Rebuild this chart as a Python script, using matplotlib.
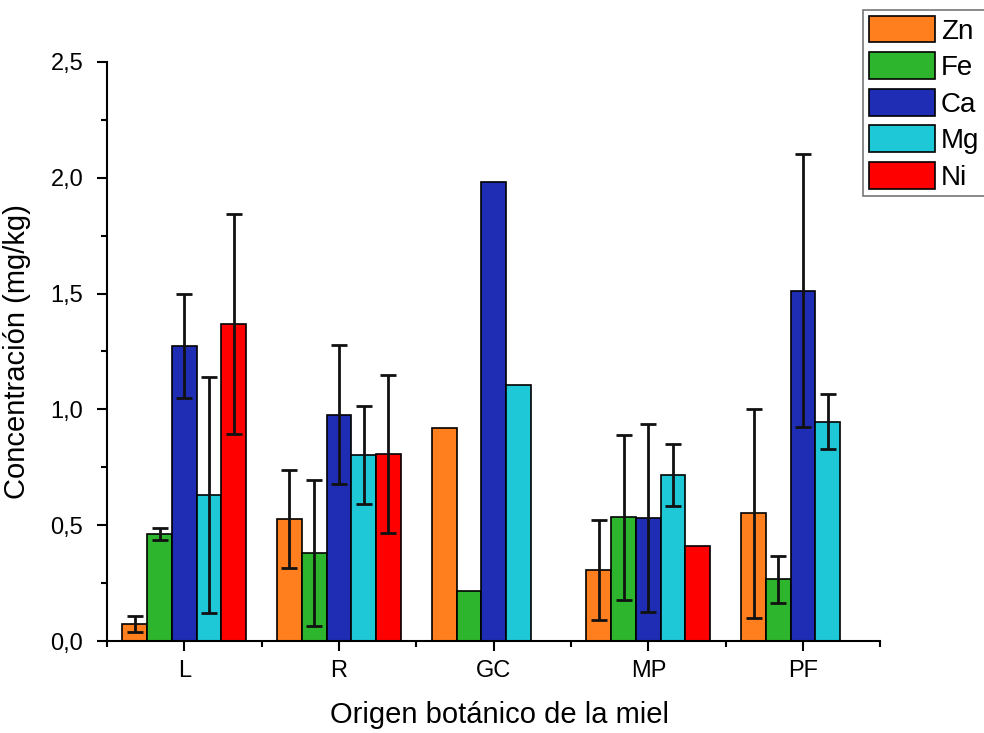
"""Concentración de metales por origen botánico de la miel."""
import numpy as np
import matplotlib
matplotlib.use('Agg')
import matplotlib.pyplot as plt
from matplotlib.ticker import MultipleLocator, FixedLocator, FuncFormatter

plt.rcParams['font.family'] = ['Liberation Sans', 'DejaVu Sans']

# Datos
origen = ['L', 'R', 'GC', 'MP', 'PF']
metales = ['Zn', 'Fe', 'Ca', 'Mg', 'Ni']

zn = [0.073, 0.527, 0.918, 0.307, 0.551]
fe = [0.462, 0.381, 0.217, 0.534, 0.266]
ca = [1.274, 0.976, 1.983, 0.532, 1.513]
mg = [0.630, 0.803, 1.105, 0.717, 0.947]
ni = [1.369, 0.806, np.nan, 0.410, np.nan]

zn_err = [0.035, 0.212, np.nan, 0.215, 0.450]
fe_err = [0.025, 0.315, np.nan, 0.357, 0.100]
ca_err = [0.224, 0.300, np.nan, 0.405, 0.590]
mg_err = [0.510, 0.212, np.nan, 0.133, 0.120]
ni_err = [0.476, 0.341, np.nan, np.nan, np.nan]

colores = ['#FF7F1E', '#2DB52D', '#1E2DB4', '#1EC8D7', '#FF0000']

valores = [zn, fe, ca, mg, ni]
errores = [zn_err, fe_err, ca_err, mg_err, ni_err]

fig = plt.figure(figsize=(9.84, 7.33), dpi=100)
ax = fig.add_axes([0.1087, 0.1255, 0.786, 0.790])

x = np.arange(len(origen))
ancho = 0.16
for k, (nombre, val, err, c) in enumerate(zip(metales, valores, errores, colores)):
    pos = x + (k - 2) * ancho
    ax.bar(pos, val, width=ancho, color=c, edgecolor='black', linewidth=1.2,
           label=nombre, zorder=2)
    ax.errorbar(pos, val, yerr=err, fmt='none', ecolor='#111111',
                elinewidth=2, capsize=6, capthick=2, zorder=3)

ax.set_xlim(-0.5, 4.5)
ax.set_ylim(0, 2.5)
ax.set_xticks(x)
ax.set_xticklabels(origen)
ax.xaxis.set_minor_locator(FixedLocator(np.arange(-0.5, 4.6, 1.0)))
ax.yaxis.set_major_locator(MultipleLocator(0.5))
ax.yaxis.set_minor_locator(MultipleLocator(0.25))
ax.yaxis.set_major_formatter(FuncFormatter(lambda v, p: f'{v:.1f}'.replace('.', ',')))

for lado in ['top', 'right']:
    ax.spines[lado].set_visible(False)
for lado in ['left', 'bottom']:
    ax.spines[lado].set_linewidth(1.5)
ax.tick_params(axis='both', which='major', direction='out', length=7, width=1.5,
               labelsize=17)
ax.tick_params(axis='x', which='major', pad=7)
ax.tick_params(axis='y', which='major', pad=10)
ax.tick_params(axis='both', which='minor', direction='out', length=4, width=1.5)

ax.set_xlabel('Origen botánico de la miel', fontsize=21)
ax.set_ylabel('Concentración (mg/kg)', fontsize=21)
ax.xaxis.set_label_coords(0.508, -0.104)
ax.yaxis.set_label_coords(-0.098, 0.5)

leg = fig.legend(loc='upper left', bbox_to_anchor=(0.877, 0.986), fontsize=20,
                 frameon=True, fancybox=False, edgecolor='#555555',
                 handlelength=2.4, handleheight=1.1, handletextpad=0.2,
                 labelspacing=0.28, borderpad=0.2, borderaxespad=0)
leg.get_frame().set_linewidth(1.2)

fig.savefig('out.png', dpi=100)
